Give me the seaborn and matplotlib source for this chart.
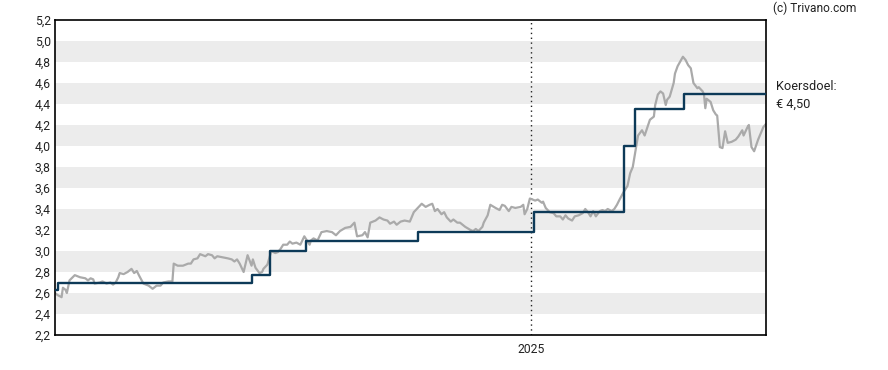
import matplotlib
matplotlib.use("Agg")
import matplotlib.pyplot as plt
import matplotlib.dates as mdates
import numpy as np
import pandas as pd
import seaborn as sns

# Data (days counted from START)
START = pd.Timestamp("2024-01-06")
END_DAY = 539

price_days = [0, 2, 5, 6, 8, 9, 11, 15, 19, 23, 25, 27, 29, 30, 34, 36, 39, 42, 44, 46,
              48, 49, 52, 55, 58, 60, 62, 64, 67, 71, 74, 77, 80, 82, 86, 89, 90, 93, 97, 101,
              103, 105, 108, 110, 114, 116, 119, 121, 123, 127, 131, 134, 136, 138, 140, 143, 146, 149, 150, 152,
              155, 157, 158, 161, 164, 167, 169, 171, 173, 176, 178, 180, 183, 186, 189, 191, 193, 194, 196, 199,
              202, 206, 210, 213, 216, 220, 224, 227, 229, 233, 235, 237, 239, 243, 246, 249, 252, 254, 257, 259,
              262, 265, 269, 272, 275, 278, 281, 284, 286, 288, 290, 293, 295, 297, 300, 302, 305, 307, 311, 315,
              317, 319, 321, 324, 325, 328, 330, 334, 337, 339, 341, 344, 346, 349, 353, 355, 356, 358, 360, 364,
              366, 369, 370, 372, 375, 378, 380, 383, 385, 387, 389, 392, 394, 397, 400, 402, 404, 406, 408, 410,
              413, 415, 417, 419, 422, 424, 426, 428, 431, 434, 436, 438, 440, 442, 445, 447, 451, 454, 455, 457,
              459, 461, 463, 464, 466, 469, 470, 472, 476, 478, 480, 482, 484, 487, 488, 491, 492, 493, 494, 497,
              499, 501, 502, 504, 506, 508, 510, 513, 516, 518, 521, 522, 525, 526, 528, 530, 533, 537, 539]
price_values = [2.60, 2.58, 2.56, 2.65, 2.63, 2.60, 2.72, 2.77, 2.75, 2.74, 2.72, 2.74, 2.73, 2.69, 2.70, 2.71, 2.69, 2.70, 2.68, 2.70,
                2.75, 2.79, 2.78, 2.80, 2.83, 2.79, 2.81, 2.76, 2.69, 2.67, 2.64, 2.67, 2.67, 2.70, 2.71, 2.71, 2.88, 2.86, 2.86, 2.88,
                2.88, 2.92, 2.93, 2.97, 2.95, 2.97, 2.96, 2.93, 2.95, 2.94, 2.93, 2.92, 2.90, 2.92, 2.88, 2.80, 2.96, 2.86, 2.92, 2.84,
                2.79, 2.80, 2.83, 2.87, 3.00, 2.98, 2.99, 3.02, 3.06, 3.06, 3.09, 3.07, 3.08, 3.06, 3.14, 3.10, 3.06, 3.10, 3.12, 3.10,
                3.18, 3.19, 3.18, 3.15, 3.19, 3.22, 3.23, 3.27, 3.14, 3.15, 3.18, 3.13, 3.27, 3.29, 3.32, 3.30, 3.29, 3.26, 3.28, 3.25,
                3.28, 3.29, 3.28, 3.37, 3.41, 3.45, 3.42, 3.44, 3.45, 3.38, 3.40, 3.35, 3.37, 3.32, 3.28, 3.30, 3.27, 3.27, 3.23, 3.20,
                3.19, 3.21, 3.19, 3.23, 3.27, 3.34, 3.44, 3.41, 3.39, 3.44, 3.43, 3.38, 3.42, 3.41, 3.42, 3.44, 3.35, 3.40, 3.50, 3.48,
                3.49, 3.46, 3.47, 3.41, 3.37, 3.36, 3.33, 3.33, 3.30, 3.34, 3.31, 3.29, 3.33, 3.34, 3.36, 3.40, 3.37, 3.33, 3.38, 3.33,
                3.38, 3.39, 3.38, 3.40, 3.38, 3.40, 3.44, 3.49, 3.56, 3.62, 3.74, 3.80, 3.95, 4.10, 4.15, 4.10, 4.25, 4.28, 4.39, 4.49,
                4.52, 4.50, 4.39, 4.44, 4.47, 4.60, 4.69, 4.76, 4.85, 4.82, 4.77, 4.74, 4.60, 4.55, 4.56, 4.52, 4.49, 4.36, 4.45, 4.42,
                4.34, 4.30, 4.29, 3.99, 3.98, 4.14, 4.03, 4.04, 4.06, 4.09, 4.15, 4.10, 4.18, 4.20, 3.99, 3.95, 4.06, 4.18, 4.21]

target_days = [0, 2, 149, 163, 190, 275, 363, 431, 440, 477, 539]
target_values = [2.63, 2.70, 2.77, 3.00, 3.10, 3.18, 3.37, 4.00, 4.35, 4.50, 4.50]

y_ticks = [2.2, 2.4, 2.6, 2.8, 3.0, 3.2, 3.4, 3.6, 3.8, 4.0, 4.2, 4.4, 4.6, 4.8, 5.0, 5.2]
year_tick = pd.Timestamp("2025-01-01")
target_label = "Koersdoel:"
target_text = "€ 4,50"
credit = "(c) Trivano.com"

price_df = pd.DataFrame({"date": START + pd.to_timedelta(price_days, unit="D"), "price": price_values})
target_df = pd.DataFrame({"date": START + pd.to_timedelta(target_days, unit="D"), "target": target_values})

sns.set_style("white")
plt.rcParams["font.family"] = ["Roboto", "DejaVu Sans"]

fig = plt.figure(figsize=(8.88, 3.70), dpi=100)
ax = fig.add_axes([55 / 888, 35 / 370, 711 / 888, 315 / 370])

# alternating bands
for lo, hi in zip(y_ticks[1:-1:2], y_ticks[2::2]):
    ax.axhspan(lo, hi, color="#ececec", lw=0, zorder=0)

ax.axvline(year_tick, color="#222222", lw=1, ls=(0, (1, 2.5)), zorder=1)

sns.lineplot(data=price_df, x="date", y="price", ax=ax, color="#aaaaaa", lw=1.6, zorder=2)
sns.lineplot(data=target_df, x="date", y="target", ax=ax, color="#0d3a58", lw=1.7,
             drawstyle="steps-post", zorder=3)

ax.set_xlim(START, START + pd.Timedelta(days=END_DAY))
ax.set_ylim(2.2, 5.2)
ax.set_yticks(y_ticks)
ax.yaxis.set_major_formatter(plt.FuncFormatter(lambda v, p: f"{v:.1f}".replace(".", ",")))
ax.set_xticks([year_tick])
ax.xaxis.set_major_formatter(mdates.DateFormatter("%Y"))
ax.set_xlabel("")
ax.set_ylabel("")

for s in ax.spines.values():
    s.set_visible(True)
    s.set_color("black")
    s.set_linewidth(1.2)
ax.tick_params(axis="y", length=0, pad=3, labelsize=8.7, colors="#222222")
ax.tick_params(axis="x", length=4, width=1, pad=2, labelsize=8.7, colors="#222222")

ax.annotate(target_label, xy=(1.0, target_values[-1]), xycoords=("axes fraction", "data"),
            xytext=(7, 5), textcoords="offset points", fontsize=9.2, color="#222222", va="center")
ax.annotate(target_text, xy=(1.0, target_values[-1]), xycoords=("axes fraction", "data"),
            xytext=(7, -7.5), textcoords="offset points", fontsize=9.2, color="#222222", va="center")

fig.text(773 / 888, 1 - 8 / 370, credit, fontsize=8.6, color="#222222", va="center", ha="left")

fig.savefig("out.png", dpi=100)
